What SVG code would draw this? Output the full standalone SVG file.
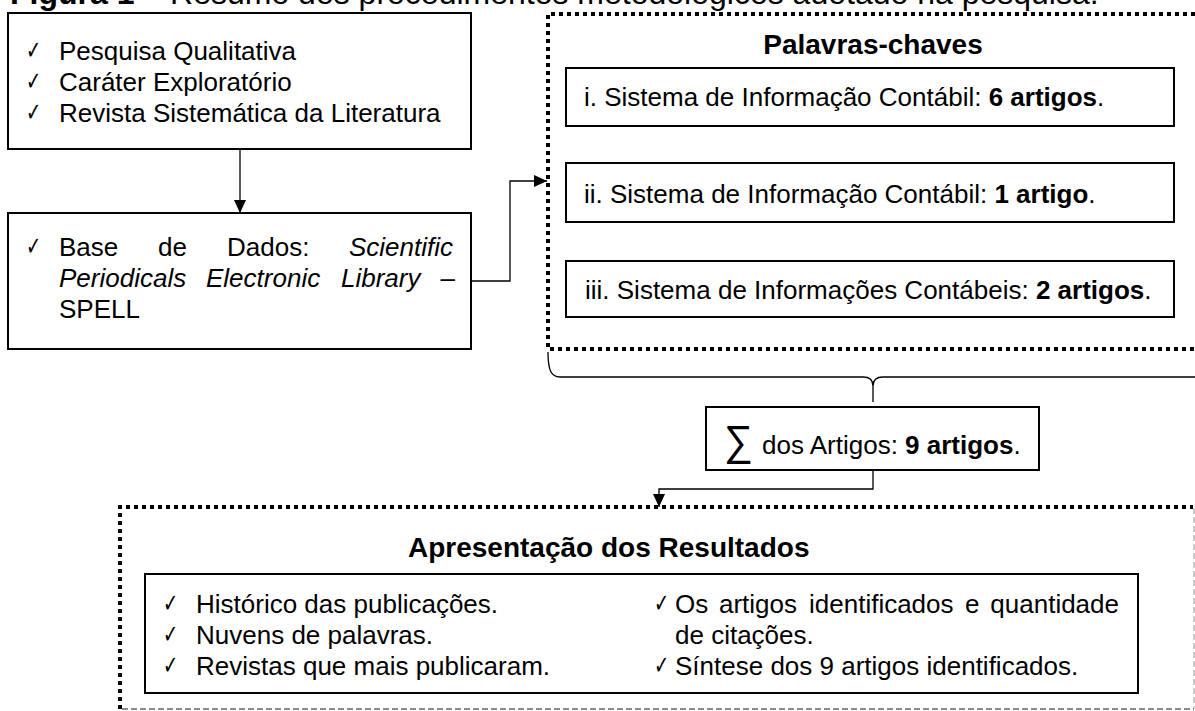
<svg xmlns="http://www.w3.org/2000/svg" width="1195" height="711" viewBox="0 0 1195 711">
<style>
text{font-family:"Liberation Sans",Arial,sans-serif;font-size:26px;fill:#000}
.b{font-weight:bold}
.t{font-weight:bold;font-size:28px}
.it{font-style:italic}
.ck{font-family:"DejaVu Sans",sans-serif;font-size:26px}
.box{fill:#fff;stroke:#000;stroke-width:2}
.dot{fill:none;stroke:#000;stroke-width:4;stroke-dasharray:4 4}
.con{fill:none;stroke:#000;stroke-width:1.3}
</style>
<defs>
<marker id="ah" markerUnits="userSpaceOnUse" markerWidth="13" markerHeight="12" refX="13" refY="6" orient="auto">
<path d="M0,0 L13,6 L0,12 z" fill="#000"/>
</marker>
</defs>
<rect width="1195" height="711" fill="#fff"/>
<text x="10" y="4" style="font-size:32px"><tspan class="b">Figura 1</tspan> – Resumo dos procedimentos metodológicos adotado na pesquisa.</text>

<g id="metodo">
<rect class="box" x="8" y="13" width="463" height="136"/>
<text class="ck" transform="translate(26 0) scale(0.7 1)"><tspan x="0" y="59">✓</tspan><tspan x="0" y="90">✓</tspan><tspan x="0" y="121">✓</tspan></text>
<text x="59" y="60">Pesquisa Qualitativa</text>
<text x="59" y="91">Caráter Exploratório</text>
<text x="59" y="122">Revista Sistemática da Literatura</text>
</g>

<g id="base">
<rect class="box" x="8" y="213" width="463" height="136"/>
<text class="ck" transform="translate(26 0) scale(0.7 1)"><tspan x="0" y="255">✓</tspan></text>
<text x="59" y="256">Base</text>
<text x="158" y="256">de</text>
<text x="227" y="256">Dados:</text>
<text class="it" x="453" y="256" text-anchor="end">Scientific</text>
<text class="it" x="59" y="287">Periodicals</text>
<text class="it" x="206" y="287">Electronic</text>
<text class="it" x="341" y="287">Library</text>
<text x="455" y="287" text-anchor="end">–</text>
<text x="59" y="318">SPELL</text>
</g>

<g id="palavras">
<polyline class="dot" points="1195,14 548,14 548,349 1195,349"/>
<text class="t" x="873" y="54" text-anchor="middle">Palavras-chaves</text>
<g id="kw1">
<rect class="box" x="566" y="68" width="608" height="58"/>
<text x="584" y="106">i. Sistema de Informação Contábil:  <tspan class="b">6 artigos</tspan>.</text>
</g>
<g id="kw2">
<rect class="box" x="566" y="163" width="608" height="59"/>
<text x="584" y="203">ii. Sistema de Informação Contábil:  <tspan class="b">1 artigo</tspan>.</text>
</g>
<g id="kw3">
<rect class="box" x="566" y="261" width="608" height="56"/>
<text x="585" y="299">iii. Sistema de Informações Contábeis: <tspan class="b">2 artigos</tspan>.</text>
</g>
</g>

<g id="soma">
<rect class="box" x="706" y="407" width="333" height="63"/>
<text x="724" y="455" style="font-size:42px" textLength="29" lengthAdjust="spacingAndGlyphs">∑</text>
<text x="762" y="454">dos Artigos: <tspan class="b">9 artigos</tspan>.</text>
</g>

<g id="resultados">
<polyline class="dot" points="120,709 120,507 1193,507"/>
<polyline fill="none" stroke="#bbb" stroke-width="1.5" stroke-dasharray="6 3" points="1194,508 1194,709"/>
<polyline fill="none" stroke="#666" stroke-width="1.5" stroke-dasharray="6 3" points="122,709 1194,709"/>
<text class="t" x="408" y="557">Apresentação dos Resultados</text>
<rect class="box" x="145" y="574" width="993" height="119"/>
<text class="ck" transform="translate(163 0) scale(0.7 1)"><tspan x="0" y="612">✓</tspan><tspan x="0" y="643">✓</tspan><tspan x="0" y="674">✓</tspan></text>
<text x="196" y="613">Histórico das publicações.</text>
<text x="196" y="644">Nuvens de palavras.</text>
<text x="196" y="675">Revistas que mais publicaram.</text>
<text class="ck" transform="translate(654 0) scale(0.7 1)"><tspan x="0" y="612">✓</tspan><tspan x="0" y="674">✓</tspan></text>
<text x="675" y="613">Os</text>
<text x="719" y="613">artigos</text>
<text x="809" y="613">identificados</text>
<text x="965" y="613">e</text>
<text x="1119" y="613" text-anchor="end">quantidade</text>
<text x="675" y="644">de citações.</text>
<text x="675" y="675">Síntese dos 9 artigos identificados.</text>
</g>

<g id="connectors">
<path class="con" d="M240,149 L240,213" marker-end="url(#ah)"/>
<path class="con" d="M471,281 L510,281 L510,181 L547,181" marker-end="url(#ah)"/>
<path class="con" d="M548,352 C548,370 551,377 560,377 L863,377 C869,377 873,379 873,386 C873,379 877,377 883,377 L1195,377 M873,386 L873,402"/>
<path class="con" d="M873,470 L873,489 L659,489 L659,507" marker-end="url(#ah)"/>
</g>
</svg>
